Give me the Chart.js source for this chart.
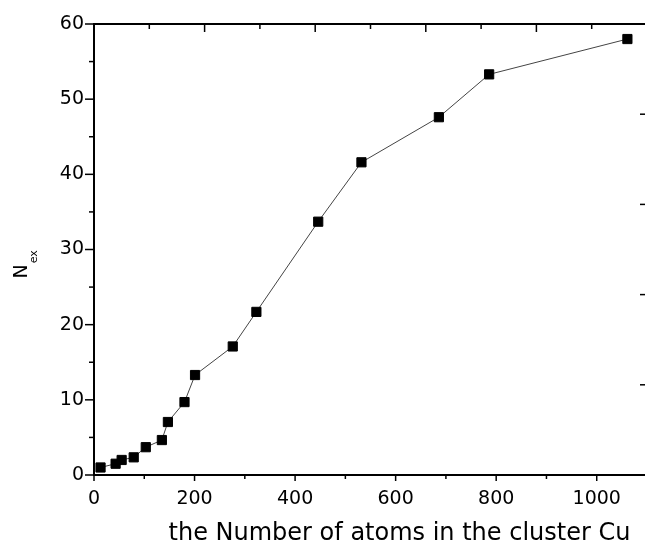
<!DOCTYPE html>
<html>
<head>
<meta charset="utf-8">
<script src="https://cdn.jsdelivr.net/npm/chart.js@4"></script>
<style>
  html, body { margin: 0; padding: 0; background: #fff; overflow: hidden; }
  #wrap { width: 660px; height: 545px; }
</style>
</head>
<body>
<div id="wrap"><canvas id="chart" width="660" height="545"></canvas></div>
<script>
// number of atoms in the Cu cluster vs N_ex
const atoms = [13, 43, 55, 79, 103, 135, 147, 180, 201, 276, 323, 446, 532, 686, 786, 1061];
const nex = [1.0, 1.5, 2.0, 2.35, 3.7, 4.65, 7.05, 9.7, 13.3, 17.1, 21.7, 33.7, 41.6, 47.6, 53.3, 58.0];

const xTitle = "the Number of atoms in the cluster Cu";
const yTitle = "N";
const ySub = "ex";

const points = atoms.map((a, i) => ({ x: a, y: nex[i] }));

// tick marks: every tick, longer on the labelled ones
const tickStyle = {
    y:  { side: "left",   out: true,  major: 10,  long: 9, short: 5 },
    x:  { side: "bottom", out: true,  major: 200, long: 6, short: 4 },
    x2: { side: "top",    out: false, major: 200, long: 8, short: 5 },
    y2: { side: "right",  out: false, major: 10,  long: 7, short: 7 },
};

const tickMarks = {
    id: "tickMarks",
    afterDraw(chart) {
        const ctx = chart.ctx;
        const area = chart.chartArea;
        ctx.save();
        ctx.strokeStyle = "#000";
        ctx.lineWidth = 1.5;
        for (const id in tickStyle) {
            const s = tickStyle[id];
            const scale = chart.scales[id];
            scale.ticks.forEach(t => {
                const p = scale.getPixelForValue(t.value);
                const len = t.value % s.major === 0 ? s.long : s.short;
                ctx.beginPath();
                if (s.side === "left") {
                    ctx.moveTo(area.left - len, p); ctx.lineTo(area.left, p);
                } else if (s.side === "right") {
                    ctx.moveTo(area.right - len, p); ctx.lineTo(area.right, p);
                } else if (s.side === "bottom") {
                    ctx.moveTo(p, area.bottom); ctx.lineTo(p, area.bottom + len);
                } else {
                    ctx.moveTo(p, area.top); ctx.lineTo(p, area.top + len);
                }
                ctx.stroke();
            });
        }
        ctx.restore();
    }
};

// axis titles (the y one has a subscript)
const titles = {
    id: "titles",
    afterDraw(chart) {
        const ctx = chart.ctx;
        const area = chart.chartArea;
        ctx.save();
        ctx.fillStyle = "#000";
        ctx.font = "24px 'DejaVu Sans'";
        ctx.textBaseline = "alphabetic";
        ctx.textAlign = "center";
        ctx.fillText(xTitle, (area.left + area.right) / 2 + 29, 540);

        ctx.translate(27, (area.top + area.bottom) / 2 + 29);
        ctx.rotate(-Math.PI / 2);
        ctx.textAlign = "left";
        ctx.font = "19px 'DejaVu Sans'";
        ctx.fillText(yTitle, 0, 0);
        const w = ctx.measureText(yTitle).width;
        ctx.font = "11px 'DejaVu Sans'";
        ctx.fillText(ySub, w + 1, 10);
        ctx.restore();
    }
};

const tickFont = { family: "'DejaVu Sans'", size: 19 };

new Chart(document.getElementById("chart"), {
    type: "line",
    plugins: [tickMarks, titles],
    data: {
        datasets: [{
            data: points,
            borderColor: "#444",
            borderWidth: 1,
            pointStyle: "rect",
            pointRadius: 6.5,
            pointBorderWidth: 1,
            pointBackgroundColor: "#000",
            pointBorderColor: "#000",
            tension: 0,
        }],
    },
    options: {
        responsive: false,
        animation: false,
        layout: { padding: 0 },
        plugins: { legend: { display: false }, tooltip: { enabled: false } },
        scales: {
            x: {
                type: "linear", position: "bottom", min: 0, max: 1100,
                afterFit: s => { s.height = 70; },
                grid: { display: false, drawTicks: false },
                border: { display: true, color: "#000", width: 2 },
                ticks: {
                    stepSize: 100, autoSkip: false, maxRotation: 0, padding: 13,
                    color: "#000", font: tickFont,
                    callback: v => (v % 200 === 0 ? String(v) : ""),
                },
            },
            x2: {
                type: "linear", position: "top", min: 0, max: 1000,
                afterFit: s => { s.height = 24; },
                grid: { display: false, drawTicks: false },
                border: { display: true, color: "#000", width: 2 },
                ticks: { stepSize: 100, display: false },
            },
            y: {
                type: "linear", position: "left", min: 0, max: 60,
                afterFit: s => { s.width = 94; },
                grid: { display: false, drawTicks: false },
                border: { display: true, color: "#000", width: 2 },
                ticks: {
                    stepSize: 5, autoSkip: false, padding: 10,
                    color: "#000", font: tickFont,
                    callback: v => (v % 10 === 0 ? String(v) : ""),
                },
            },
            y2: {
                type: "linear", position: "right", min: 0, max: 50,
                afterFit: s => { s.width = 11; },
                grid: { display: false, drawTicks: false },
                border: { display: true, color: "#000", width: 2 },
                ticks: { stepSize: 10, display: false },
            },
        },
    },
});
</script>
</body>
</html>
